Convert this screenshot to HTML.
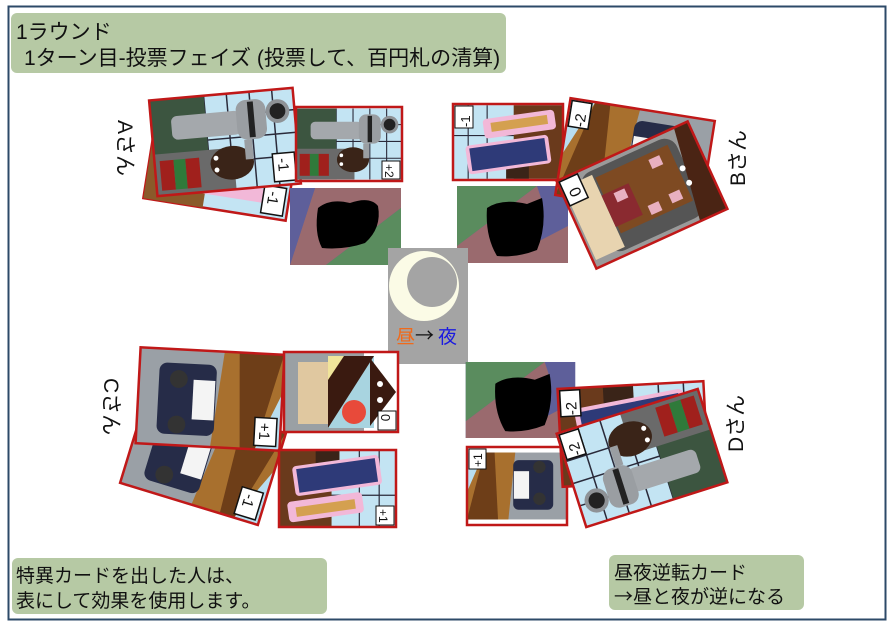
<!DOCTYPE html>
<html><head><meta charset="utf-8">
<style>
html,body{margin:0;padding:0;background:#fff;}
svg{display:block;font-family:"Liberation Sans","Noto Sans CJK JP",sans-serif;}
.cjk{font-family:"Noto Sans CJK JP",sans-serif;}
</style></head>
<body>
<svg width="893" height="630" viewBox="0 0 893 630" xmlns="http://www.w3.org/2000/svg">
<defs>
  <symbol id="robot" viewBox="0 0 145 97">
    <rect width="145" height="97" fill="#c3e4f3"/>
    <g stroke="#2a2a3a" stroke-width="1.5">
      <line x1="55" y1="0" x2="55" y2="97"/><line x1="78" y1="0" x2="78" y2="97"/>
      <line x1="101" y1="0" x2="101" y2="97"/><line x1="124" y1="0" x2="124" y2="97"/>
      <line x1="55" y1="22" x2="145" y2="22"/><line x1="55" y1="45" x2="145" y2="45"/><line x1="55" y1="68" x2="145" y2="68"/>
    </g>
    <rect x="0" y="0" width="55" height="97" fill="#3c5540"/>
    <rect x="0" y="55" width="80" height="42" fill="#6a6a6a"/>
    <rect x="5" y="62" width="14" height="30" fill="#a0201c"/>
    <rect x="19" y="62" width="12" height="30" fill="#2f7a3a"/>
    <rect x="31" y="62" width="14" height="30" fill="#a0201c"/>
    <ellipse cx="78" cy="70" rx="22" ry="17" fill="#3a2418"/>
    <circle cx="62" cy="64" r="2.5" fill="#fff"/><circle cx="62" cy="76" r="2.5" fill="#fff"/>
    <rect x="20" y="18" width="70" height="24" rx="6" fill="#a4a8ac"/>
    <rect x="86" y="8" width="30" height="40" rx="10" fill="#9a9ea2"/>
    <rect x="98" y="10" width="6" height="36" fill="#222"/>
    <circle cx="128" cy="22" r="12" fill="#8e9296"/><circle cx="128" cy="22" r="8" fill="#222"/>
    <rect x="92" y="48" width="8" height="20" fill="#9a9ea2"/>
  </symbol>
  <symbol id="car" viewBox="0 0 145 97">
    <rect width="145" height="97" fill="#9aa0a6"/>
    <polygon points="85,0 145,0 145,97 75,97" fill="#a8702e"/>
    <polygon points="120,97 145,40 145,97" fill="#b8def0"/>
    <polygon points="100,0 145,0 120,97 105,97" fill="#6e3e18"/>
    <rect x="62" y="40" width="14" height="22" fill="#2e6b30"/>
    <rect x="20" y="14" width="58" height="72" rx="8" fill="#262c48"/>
    <rect x="55" y="30" width="22" height="40" fill="#f4f4f4"/>
    <circle cx="40" cy="30" r="9" fill="#333"/><circle cx="40" cy="76" r="9" fill="#333"/>
  </symbol>
  <symbol id="phone" viewBox="0 0 145 97">
    <rect width="145" height="97" fill="#c3e4f3"/>
    <g stroke="#2a2a3a" stroke-width="1.5">
      <line x1="20" y1="0" x2="20" y2="97"/><line x1="45" y1="0" x2="45" y2="97"/>
      <line x1="0" y1="40" x2="145" y2="40"/>
    </g>
    <rect x="80" y="0" width="65" height="97" fill="#6a3a1c"/>
    <rect x="70" y="80" width="30" height="17" fill="#3a2418"/>
    <rect x="40" y="12" width="95" height="26" rx="5" fill="#f2b8d8" transform="rotate(-8 87 25)"/>
    <rect x="50" y="18" width="75" height="12" fill="#d4a050" transform="rotate(-8 87 25)"/>
    <rect x="18" y="46" width="110" height="38" rx="5" fill="#f2b8d8" transform="rotate(-8 73 65)"/>
    <rect x="23" y="50" width="100" height="30" fill="#2e3a78" transform="rotate(-8 73 65)"/>
  </symbol>
  <symbol id="table" viewBox="0 0 145 97">
    <rect width="145" height="97" fill="#9a9a9a"/>
    <rect x="20" y="5" width="105" height="87" rx="14" fill="#555"/>
    <rect x="28" y="22" width="80" height="62" fill="#7e4a22"/>
    <rect x="110" y="8" width="32" height="80" fill="#e8d4b0"/>
    <rect x="80" y="30" width="30" height="35" fill="#8a2a30"/>
    <g fill="#e8b0c0"><rect x="36" y="28" width="12" height="10"/><rect x="60" y="26" width="12" height="10"/><rect x="86" y="52" width="12" height="10"/><rect x="40" y="68" width="12" height="10"/></g>
    <polygon points="0,0 30,0 15,97 0,97" fill="#4a2414"/>
    <circle cx="24" cy="40" r="3" fill="#fff"/><circle cx="24" cy="56" r="3" fill="#fff"/>
  </symbol>
  <symbol id="daynight" viewBox="0 0 114 80">
    <rect width="114" height="80" fill="#fff"/>
    <rect x="0" y="0" width="80" height="80" fill="#9aa0a4"/>
    <rect x="14" y="10" width="30" height="62" fill="#e0c8a0"/>
    <rect x="44" y="4" width="46" height="72" fill="#3a1a10"/>
    <polygon points="44,76 90,4 90,76" fill="#a8d4e0"/>
    <polygon points="44,4 60,4 44,28" fill="#f0e49a"/>
    <circle cx="70" cy="60" r="12" fill="#e84a3a"/>
    <polygon points="86,6 112,40 86,74" fill="#3a1a10"/>
    <circle cx="96" cy="32" r="3" fill="#fff"/><circle cx="96" cy="48" r="3" fill="#fff"/>
  </symbol>
  <symbol id="shadowA" viewBox="0 0 111 77">
    <rect width="111" height="77" fill="#5e5f9a"/>
    <polygon points="25,0 111,0 111,20 36,77 0,77" fill="#9a6a6e"/>
    <polygon points="111,20 111,77 36,77" fill="#5a8c5e"/>
    <polygon points="0,0 25,0 0,77" fill="#5e5f9a"/>
    <path d="M28,20 Q40,10 60,15 Q80,8 88,18 Q92,40 75,55 Q55,62 32,60 Q24,45 28,20Z" fill="#000"/>
  </symbol>
  <symbol id="shadowB" viewBox="0 0 111 77">
    <rect width="111" height="77" fill="#5e5f9a"/>
    <polygon points="0,0 80,0 0,60" fill="#5a8c5e"/>
    <polygon points="0,60 80,0 85,15 60,77 0,77" fill="#9a6a6e"/>
    <polygon points="40,77 111,40 111,77" fill="#9a6a6e"/>
    <path d="M30,22 Q45,12 70,18 L85,12 Q90,40 80,64 Q60,72 40,70 Q28,50 30,22Z" fill="#000"/>
  </symbol>
</defs>

<rect x="8.5" y="6.5" width="877" height="613" fill="#fff" stroke="#2d4a68" stroke-width="2"/>

<rect x="11" y="13" width="495" height="60" rx="6" fill="#b6c9a4"/>
<text x="16" y="39" font-size="21" fill="#111">1ラウンド</text>
<text x="24" y="65" font-size="21" fill="#111">1ターン目-投票フェイズ (投票して、百円札の清算)</text>

<text x="0" y="0" font-size="21" fill="#111" transform="translate(118,120) rotate(90)">Aさん</text>
<text x="0" y="0" font-size="21" fill="#111" transform="translate(745,186) rotate(-90)">Bさん</text>
<text x="0" y="0" font-size="21" fill="#111" transform="translate(104,378) rotate(90)">Cさん</text>
<text x="0" y="0" font-size="21" fill="#111" transform="translate(743,452) rotate(-90)">Dさん</text>

<!-- A -->
<g transform="translate(222,162) rotate(9)">
  <rect x="-72" y="-48" width="144" height="96" fill="#c3e4f3" stroke="#c01818" stroke-width="2.5"/>
  <rect x="-72" y="-48" width="60" height="96" fill="#8a5a2a"/>
  <rect x="-40" y="20" width="90" height="14" fill="#f2b8d8"/>
  <rect x="46" y="16" width="22" height="28" fill="#fff" stroke="#111" stroke-width="1.5"/>
  <text transform="translate(51,21) rotate(90)" font-size="15" fill="#111">-1</text>
</g>
<g transform="translate(225,142) rotate(-5)">
  <use href="#robot" x="-72" y="-48" width="144" height="96"/>
  <rect x="-72" y="-48" width="144" height="96" fill="none" stroke="#c01818" stroke-width="2.5"/>
  <rect x="46" y="16" width="22" height="28" fill="#fff" stroke="#111" stroke-width="1.5"/>
  <text transform="translate(51,21) rotate(90)" font-size="15" fill="#111">-1</text>
</g>
<g>
  <use href="#robot" x="296" y="107" width="106" height="74" preserveAspectRatio="none"/>
  <rect x="296" y="107" width="106" height="74" fill="none" stroke="#c01818" stroke-width="2.5"/>
  <rect x="382" y="161" width="18" height="18" fill="#fff" stroke="#111" stroke-width="1"/>
  <text transform="translate(385,164) rotate(90)" font-size="12" fill="#111">+2</text>
</g>
<use href="#shadowA" x="290" y="188" width="111" height="77"/>

<!-- B -->
<g>
  <use href="#phone" x="453" y="104" width="110" height="76" preserveAspectRatio="none"/>
  <rect x="453" y="104" width="110" height="76" fill="none" stroke="#c01818" stroke-width="2.5"/>
  <rect x="455" y="106" width="18" height="22" fill="#fff" stroke="#111" stroke-width="1"/>
  <text transform="translate(470,127) rotate(-90)" font-size="13" fill="#111">-1</text>
</g>
<use href="#shadowB" x="457" y="186" width="111" height="77"/>
<g transform="translate(635,158) rotate(9)">
  <use href="#car" x="-73" y="-49" width="146" height="98" transform="rotate(180)"/>
  <rect x="-73" y="-49" width="146" height="98" fill="none" stroke="#c01818" stroke-width="2.5"/>
  <rect x="-71" y="-47" width="20" height="26" fill="#fff" stroke="#111" stroke-width="1.5"/>
  <text transform="translate(-55,-22) rotate(-90)" font-size="15" fill="#111">-2</text>
</g>
<g transform="translate(642,195) rotate(-24.5)">
  <use href="#table" x="-72" y="-48" width="144" height="96" transform="rotate(180)"/>
  <rect x="-72" y="-48" width="144" height="96" fill="none" stroke="#c01818" stroke-width="2.5"/>
  <rect x="-70" y="-46" width="20" height="26" fill="#fff" stroke="#111" stroke-width="1.5"/>
  <text transform="translate(-54,-26) rotate(-90)" font-size="16" fill="#111">0</text>
</g>

<!-- center -->
<rect x="388" y="248" width="80" height="116" fill="#a4a4a4"/>
<circle cx="424" cy="286" r="35" fill="#fbfbe6"/>
<circle cx="432" cy="282" r="25" fill="#a4a4a4"/>
<text x="396" y="343" font-size="19" fill="#f06a1a">昼</text>
<text x="415" y="342" font-size="19" fill="#111" class="cjk">→</text>
<text x="438" y="343" font-size="19" fill="#1a1ae0">夜</text>

<!-- C -->
<g transform="translate(203,458) rotate(17)">
  <use href="#car" x="-72" y="-48" width="144" height="96"/>
  <rect x="-72" y="-48" width="144" height="96" fill="none" stroke="#c01818" stroke-width="2.5"/>
  <rect x="46" y="16" width="22" height="28" fill="#fff" stroke="#111" stroke-width="1.5"/>
  <text transform="translate(51,21) rotate(90)" font-size="15" fill="#111">-1</text>
</g>
<g transform="translate(210,399) rotate(3)">
  <use href="#car" x="-72" y="-48" width="144" height="96"/>
  <rect x="-72" y="-48" width="144" height="96" fill="none" stroke="#c01818" stroke-width="2.5"/>
  <rect x="46" y="16" width="22" height="28" fill="#fff" stroke="#111" stroke-width="1.5"/>
  <text transform="translate(51,21) rotate(90)" font-size="15" fill="#111">+1</text>
</g>
<g>
  <use href="#daynight" x="284" y="352" width="114" height="80"/>
  <rect x="284" y="352" width="114" height="80" fill="none" stroke="#c01818" stroke-width="2.5"/>
  <rect x="378" y="411" width="18" height="19" fill="#fff" stroke="#111" stroke-width="1"/>
  <text transform="translate(381,414) rotate(90)" font-size="13" fill="#111">0</text>
</g>
<g>
  <use href="#phone" x="279" y="450" width="117" height="77" preserveAspectRatio="none" transform="rotate(180 337.5 488.5)"/>
  <rect x="279" y="450" width="117" height="77" fill="none" stroke="#c01818" stroke-width="2.5"/>
  <rect x="376" y="506" width="18" height="19" fill="#fff" stroke="#111" stroke-width="1"/>
  <text transform="translate(379,509) rotate(90)" font-size="12" fill="#111">+1</text>
</g>

<!-- D -->
<use href="#shadowB" x="465" y="362" width="111" height="76"/>
<g>
  <use href="#car" x="467" y="447" width="100" height="78" preserveAspectRatio="none" transform="rotate(180 517 486)"/>
  <rect x="467" y="447" width="100" height="78" fill="none" stroke="#c01818" stroke-width="2.5"/>
  <rect x="469" y="449" width="17" height="20" fill="#fff" stroke="#111" stroke-width="1"/>
  <text transform="translate(482,467) rotate(-90)" font-size="12" fill="#111">+1</text>
</g>
<g transform="translate(633,434) rotate(-3)">
  <use href="#phone" x="-73" y="-49" width="146" height="98" transform="rotate(180)"/>
  <rect x="-73" y="-49" width="146" height="98" fill="none" stroke="#c01818" stroke-width="2.5"/>
  <rect x="-71" y="-47" width="20" height="26" fill="#fff" stroke="#111" stroke-width="1.5"/>
  <text transform="translate(-55,-22) rotate(-90)" font-size="15" fill="#111">-2</text>
</g>
<g transform="translate(642,458) rotate(-17.6)">
  <use href="#robot" x="-74" y="-49" width="148" height="98" transform="rotate(180)"/>
  <rect x="-74" y="-49" width="148" height="98" fill="none" stroke="#c01818" stroke-width="2.5"/>
  <rect x="-72" y="-47" width="20" height="26" fill="#fff" stroke="#111" stroke-width="1.5"/>
  <text transform="translate(-56,-22) rotate(-90)" font-size="15" fill="#111">-2</text>
</g>

<!-- notes -->
<rect x="12" y="558" width="315" height="56" rx="6" fill="#b6c9a4"/>
<text x="16" y="582" font-size="19" fill="#111">特異カードを出した人は、</text>
<text x="16" y="607" font-size="19" fill="#111">表にして効果を使用します。</text>

<rect x="609" y="555" width="195" height="55" rx="6" fill="#b6c9a4"/>
<text x="614" y="579" font-size="19" fill="#111">昼夜逆転カード</text>
<text x="614" y="603" font-size="19" fill="#111"><tspan class="cjk">→</tspan>昼と夜が逆になる</text>
</svg>
</body></html>
